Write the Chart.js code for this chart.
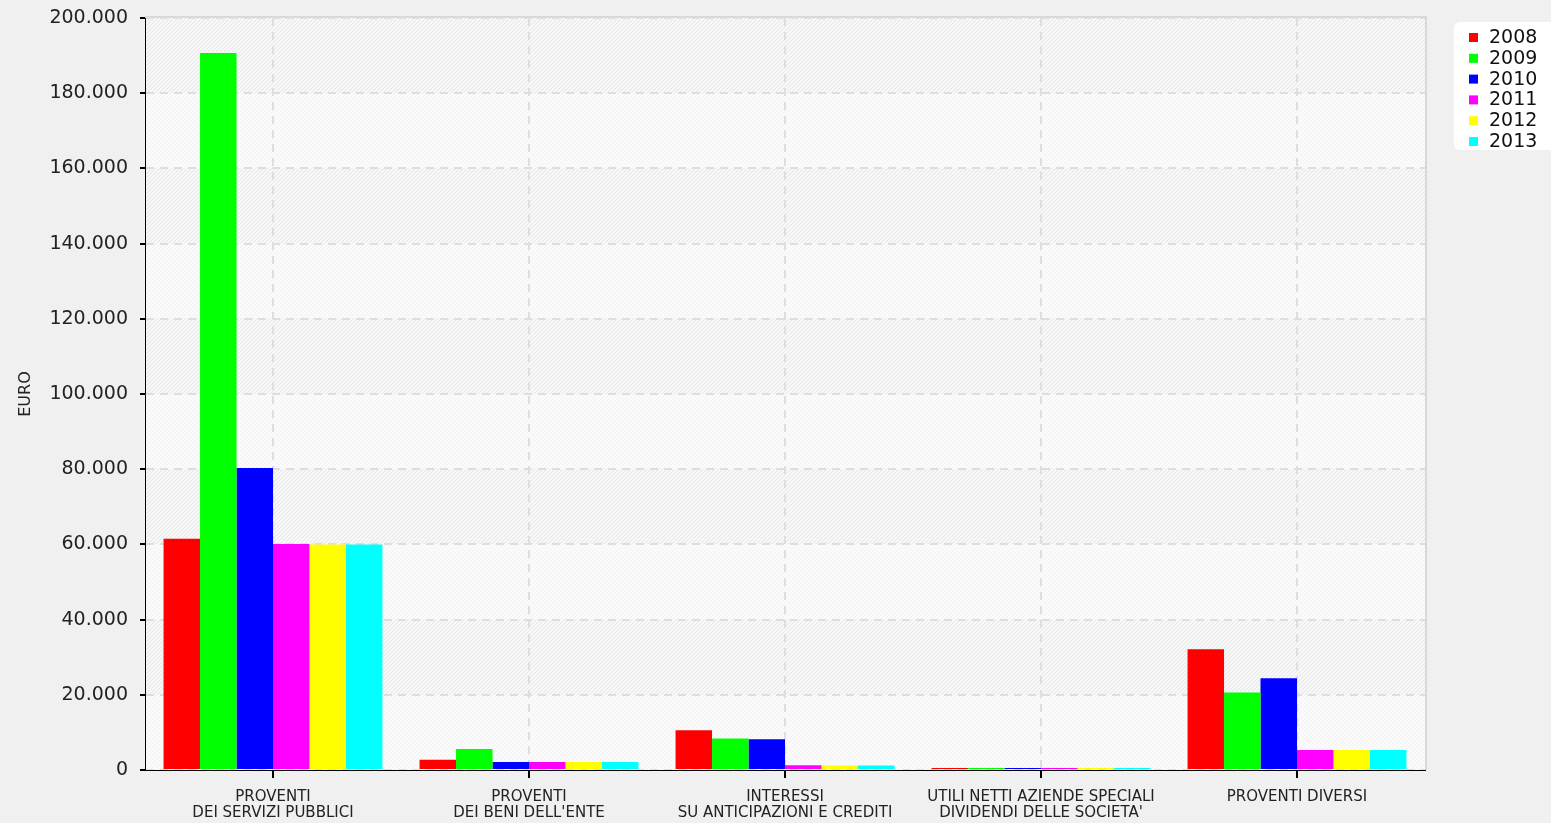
<!DOCTYPE html>
<html>
<head>
<meta charset="utf-8">
<script src="https://cdn.jsdelivr.net/npm/chart.js@4.4.1/dist/chart.umd.min.js"></script>
<style>
  html, body { margin: 0; padding: 0; background: #f0f0f0; }
  #wrap { width: 1551px; height: 823px; position: relative; }
</style>
</head>
<body>
<div id="wrap"><canvas id="chart"></canvas></div>
<script>
const categories = [
  ['PROVENTI', 'DEI SERVIZI PUBBLICI'],
  ['PROVENTI', "DEI BENI DELL'ENTE"],
  ['INTERESSI', 'SU ANTICIPAZIONI E CREDITI'],
  ['UTILI NETTI AZIENDE SPECIALI', "DIVIDENDI DELLE SOCIETA'"],
  ['PROVENTI DIVERSI']
];
const years = ['2008', '2009', '2010', '2011', '2012', '2013'];
const colors = ['#ff0000', '#00ff00', '#0000ff', '#ff00ff', '#ffff00', '#00ffff'];

const values2008 = [61500, 2700, 10600, 500, 32100];
const values2009 = [190700, 5600, 8400, 500, 20600];
const values2010 = [80300, 2100, 8200, 500, 24400];
const values2011 = [60100, 2100, 1250, 500, 5300];
const values2012 = [60000, 2100, 1200, 500, 5300];
const values2013 = [60000, 2100, 1200, 500, 5300];
const seriesValues = [values2008, values2009, values2010, values2011, values2012, values2013];

const yTicks = { min: 0, max: 200000, step: 20000 };

function fmt(v) {
  return String(v).replace(/\B(?=(\d{3})+(?!\d))/g, '.');
}

// diagonal hatch patterns for the alternating bands
function makeHatch(base, stripe) {
  const c = document.createElement('canvas');
  c.width = 4; c.height = 4;
  const g = c.getContext('2d');
  g.fillStyle = base;
  g.fillRect(0, 0, 4, 4);
  g.fillStyle = stripe;
  for (let i = 0; i < 4; i++) g.fillRect(3 - i, i, 1, 1);
  return g.createPattern(c, 'repeat');
}

const bandPlugin = {
  id: 'bands',
  beforeDraw(chart) {
    const { ctx, chartArea: a, scales: { y } } = chart;
    const dark = makeHatch('#f7f7f7', '#e6e6e6');
    const light = makeHatch('#fbfbfb', '#f1f1f1');
    ctx.save();
    let i = 0;
    for (let v = yTicks.max; v > yTicks.min; v -= yTicks.step) {
      const top = y.getPixelForValue(v);
      const bot = y.getPixelForValue(v - yTicks.step);
      ctx.fillStyle = i % 2 === 0 ? dark : light;
      ctx.fillRect(a.left, top, a.right - a.left, bot - top);
      i++;
    }
    ctx.strokeStyle = '#d8d8d8';
    ctx.lineWidth = 2;
    ctx.beginPath();
    ctx.moveTo(a.left, a.top - 1);
    ctx.lineTo(a.right + 1, a.top - 1);
    ctx.lineTo(a.right + 1, a.bottom);
    ctx.stroke();
    ctx.restore();
  }
};

const legendPlugin = {
  id: 'boxLegend',
  afterDraw(chart) {
    const { ctx } = chart;
    const x = 1454, y = 22, w = 110, h = 128;
    ctx.save();
    ctx.fillStyle = '#ffffff';
    ctx.beginPath();
    ctx.roundRect(x, y, w, h, 6);
    ctx.fill();
    ctx.font = '19px "DejaVu Sans"';
    ctx.textBaseline = 'middle';
    chart.data.datasets.forEach((ds, i) => {
      const cy = 37 + i * 20.8;
      ctx.fillStyle = ds.backgroundColor;
      ctx.fillRect(1469, cy - 4, 9, 9);
      ctx.fillStyle = '#111';
      ctx.fillText(ds.label, 1489, cy + 1);
    });
    ctx.restore();
  }
};

new Chart(document.getElementById('chart'), {
  type: 'bar',
  data: {
    labels: categories,
    datasets: years.map((yr, i) => ({
      label: yr,
      data: seriesValues[i],
      backgroundColor: colors[i],
      borderWidth: 0,
      categoryPercentage: 0.855,
      barPercentage: 1
    }))
  },
  options: {
    responsive: true,
    maintainAspectRatio: false,
    animation: false,
    layout: { padding: { top: 18, right: 126, left: 0, bottom: 0 } },
    plugins: {
      legend: { display: false },
      tooltip: { enabled: false }
    },
    scales: {
      x: {
        afterFit(scale) { scale.height = 53; },
        border: { color: '#000', width: 1, dash: [8, 6] },
        grid: {
          offset: false,
          color: '#dedede',
          lineWidth: 2,
          tickColor: '#000',
          tickBorderDash: [1, 0],
          tickLength: 8,
          tickWidth: 2
        },
        ticks: {
          color: '#222',
          font: { family: 'DejaVu Sans', size: 15, lineHeight: 1.07 },
          padding: 11,
          maxRotation: 0,
          autoSkip: false
        }
      },
      y: {
        min: yTicks.min,
        max: yTicks.max,
        afterFit(scale) {
          scale.width = 145;
          scale.paddingTop = 0;
          scale.paddingBottom = 0;
        },
        border: { color: '#000', width: 1, dash: [8, 6] },
        grid: {
          color: '#dedede',
          lineWidth: 2,
          tickColor: '#000',
          tickBorderDash: [1, 0],
          tickLength: 5
        },
        ticks: {
          stepSize: yTicks.step,
          color: '#222',
          font: { family: 'DejaVu Sans', size: 19 },
          padding: 12,
          callback: v => fmt(v)
        },
        title: {
          display: true,
          text: 'EURO',
          color: '#222',
          font: { family: 'DejaVu Sans', size: 16 },
          padding: { top: 16, bottom: 0 }
        }
      }
    }
  },
  plugins: [bandPlugin, legendPlugin]
});
</script>
</body>
</html>
